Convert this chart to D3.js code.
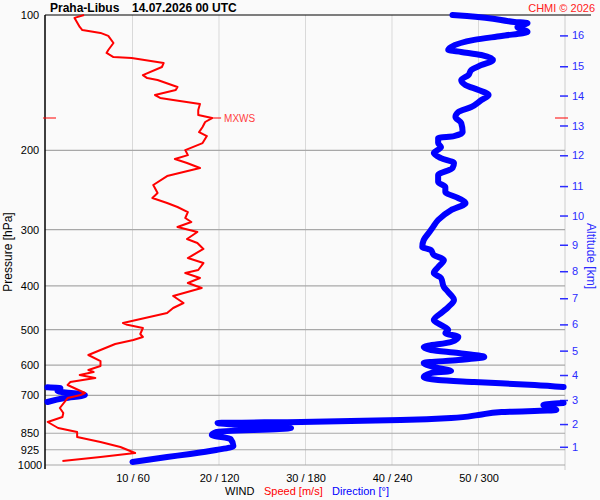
<!DOCTYPE html>
<html>
<head>
<meta charset="utf-8">
<script src="https://cdn.jsdelivr.net/npm/d3@7/dist/d3.min.js"></script>
<style>
  body { margin: 0; background: #fafafa; }
  text { font-family: "Liberation Sans", Arial, sans-serif; }
</style>
</head>
<body>
<svg id="chart"></svg>
<script>
// pressure grid / labels
var pressureTicks = [100, 200, 300, 400, 500, 600, 700, 850, 925, 1000];
// wind axis: speed m/s and direction deg share the same x
var speedTicks = [10, 20, 30, 40, 50];
var windTickLabels = ["10 / 60", "20 / 120", "30 / 180", "40 / 240", "50 / 300"];
// altitude ticks on the right, placed at their pressure
var altitudeKm = [1, 2, 3, 4, 5, 6, 7, 8, 9, 10, 11, 12, 13, 14, 15, 16];
var altitudeP = [911, 811, 717, 631, 557, 487, 426, 371, 324, 279, 240, 205, 176, 151, 130, 111];

// wind speed profile
var speedP = [100, 101.5, 106.3, 108, 109.6, 111.3, 115.4, 119.6, 121.4, 124, 124.6, 127.9, 130.5, 136, 138.1,
  139.5, 144.5, 146.8, 150.6, 152.9, 154.5, 157.7, 162.6, 166.8, 169.4, 172.9, 177.4, 182.1, 185.8, 192.6,
  199.6, 204.8, 209, 213.3, 218.8, 228, 238.7, 248.7, 255.1, 261.7, 267.1, 274.3, 282.6, 288.4, 295.9,
  303.6, 314.6, 321.1, 331.1, 346.8, 355.8, 368.7, 374.4, 384.1, 394.1, 404.3, 421.2, 436.5, 447.8, 459.5,
  483.6, 488, 496.1, 511.6, 519.5, 527.5, 538.4, 555.2, 569.6, 587.5, 602.6, 615.1, 621.4, 631, 640.8,
  654.1, 664.1, 691.9, 699, 710, 747, 766.4, 782.3, 802.5, 827.5, 844.6, 866.6, 889, 911.9, 940.5, 959.9, 979.7];
var speedMs = [4.4, 3.3, 3.9, 4.2, 6.3, 7.2, 7.8, 7.2, 7.0, 7.8, 9.9, 13.6, 13.4, 11.2, 11.7,
  12.9, 15.2, 15.0, 12.6, 13.2, 14.7, 17.8, 17.6, 17.6, 19.2, 18.4, 18.1, 17.7, 18.6, 18.1,
  16.1, 16.4, 14.9, 16.3, 17.8, 14.0, 12.4, 12.9, 12.3, 14.0, 15.2, 16.4, 16.1, 16.8, 15.2,
  17.5, 16.3, 17.5, 18.2, 16.4, 18.2, 17.6, 16.1, 17.8, 16.4, 18.0, 14.7, 15.9, 14.7, 14.0,
  8.9, 9.4, 11.2, 10.9, 11.2, 10.1, 8.0, 6.3, 4.9, 6.3, 6.3, 4.9, 5.5, 3.9, 5.7,
  2.8, 2.5, 4.5, 4.0, 2.5, 1.6, 2.0, 1.9, 0.2, 1.4, 3.6, 3.6, 6.3, 8.6, 10.3, 6.3, 1.9];

// wind direction profile
var dirP = [100, 100.5, 101.5, 103.6, 104.2, 106.3, 109.1, 111.3, 113.6, 117.8, 119.6, 120.8, 122.7, 125.9, 129.2,
  132.5, 136, 139.5, 143.1, 146.8, 150.6, 154.5, 160.1, 164.3, 168.5, 173.8, 182.1, 185.8, 187.7, 192.6,
  196.6, 202.7, 208, 213.3, 218.8, 226.8, 235.1, 241.2, 247.4, 255.1, 261.7, 271.3, 285.5, 297.4, 303.6,
  316.2, 327.7, 332.8, 341.5, 350.3, 363.1, 374.4, 384.1, 402.3, 412.7, 429.9, 445.6, 457.2, 476.2, 488.6,
  501.2, 509, 519.5, 533, 546.8, 555.2, 563.8, 575.5, 584.4, 593.4, 605.7, 618.3, 624.6, 637.5, 647.4,
  654.1, 664.1, 671, 672, 675, 684.8, 699, 710, 724.5, 728, 735.6, 754.7, 762.5, 774.3, 786.2,
  794.3, 802.5, 806.6, 827.5, 844.6, 857.7, 875.4, 907.4, 926.1, 945.2, 959.9, 984.7];
var dirDeg = [282, 292, 306, 325, 334, 327, 334, 316, 297, 281, 279, 288, 302, 310, 302,
  295, 293, 288, 291, 300, 307, 302, 295, 286, 284, 288, 289, 283, 272, 272,
  274, 269, 274, 283, 282, 272, 272, 277, 277, 286, 291, 281, 272, 268, 266,
  262, 261, 267, 269, 276, 272, 269, 274, 276, 279, 283, 279, 275, 269, 274,
  279, 277, 286, 281, 262, 267, 286, 304, 286, 262, 269, 281, 267, 262, 272,
  297, 339, 359, 1, 10, 8, 27, 13, 1, 359, 345, 354, 316, 300, 281,
  246, 177, 119, 170, 118, 115, 128, 130, 118, 100, 84, 60];

var width = 600, height = 500;
var svg = d3.select('#chart')
    .attr('width', width)
    .attr('height', height);

var y = d3.scaleLog().domain([100, 1000]).range([15, 465]);
var xSpeed = d3.scaleLinear().domain([0, 60]).range([46, 565]);
var xDir = d3.scaleLinear().domain([0, 360]).range([46, 565]);

/* grid */
svg.append('g').selectAll('line')
    .data(speedTicks)
    .enter().append('line')
    .attr('x1', d => xSpeed(d)).attr('x2', d => xSpeed(d))
    .attr('y1', y(100)).attr('y2', y(1000))
    .attr('stroke', '#d9d9d9').attr('stroke-width', 1);

svg.append('line')
    .attr('x1', xSpeed(60)).attr('x2', xSpeed(60))
    .attr('y1', y(100)).attr('y2', y(1000) + 5)
    .attr('stroke', '#cccccc');

svg.append('g').selectAll('line')
    .data(pressureTicks.slice(1))
    .enter().append('line')
    .attr('x1', 45).attr('x2', xSpeed(60))
    .attr('y1', d => y(d)).attr('y2', d => y(d))
    .attr('stroke', '#a8a8a8').attr('stroke-width', 1.2);

// top line and left axis
svg.append('line')
    .attr('x1', 45).attr('x2', 591)
    .attr('y1', y(100)).attr('y2', y(100))
    .attr('stroke', '#000');
svg.append('line')
    .attr('x1', 45).attr('x2', 45)
    .attr('y1', y(100)).attr('y2', y(1000) + 4)
    .attr('stroke', '#000').attr('stroke-width', 1.5);

/* axes */
var leftAxis = d3.axisLeft(y)
    .tickValues(pressureTicks)
    .tickFormat(d3.format('d'))
    .tickSize(0);
var gl = svg.append('g').attr('transform', 'translate(30,0)').call(leftAxis);
gl.select('.domain').remove();
gl.selectAll('text')
    .attr('x', 0).attr('text-anchor', 'middle')
    .style('font-size', '11px').style('font-family', '"Liberation Sans", Arial, sans-serif')
    .attr('fill', '#000');

var bottomAxis = d3.axisBottom(xSpeed)
    .tickValues(speedTicks)
    .tickFormat((d, i) => windTickLabels[i])
    .tickSize(0)
    .tickPadding(9);
var gb = svg.append('g').attr('transform', 'translate(0,' + y(1000) + ')').call(bottomAxis);
gb.select('.domain').remove();
gb.selectAll('text')
    .style('font-size', '11px').style('font-family', '"Liberation Sans", Arial, sans-serif')
    .attr('fill', '#000');

var rightAxis = d3.axisRight(y)
    .tickValues(altitudeP)
    .tickFormat((d, i) => altitudeKm[i])
    .tickSize(8)
    .tickPadding(4);
var gr = svg.append('g').attr('transform', 'translate(560,0)').call(rightAxis);
gr.select('.domain').remove();
gr.selectAll('line').attr('stroke', '#2b2bff').attr('stroke-width', 1.5);
gr.selectAll('text')
    .style('font-size', '11px').style('font-family', '"Liberation Sans", Arial, sans-serif')
    .attr('fill', '#2b2bff');

/* direction (break the line where it wraps round north) */
var dirPoints = dirP.map((p, i) => ({p: p, d: dirDeg[i]}));
var dirSegments = [[]];
dirPoints.forEach(function(pt, i) {
    if (i > 0 && Math.abs(pt.d - dirPoints[i - 1].d) > 180) dirSegments.push([]);
    dirSegments[dirSegments.length - 1].push(pt);
});
var dirLine = d3.line()
    .x(d => xDir(d.d))
    .y(d => y(d.p))
    .curve(d3.curveMonotoneY);
svg.append('g').selectAll('path')
    .data(dirSegments)
    .enter().append('path')
    .attr('d', dirLine)
    .attr('fill', 'none')
    .attr('stroke', '#0000ff')
    .attr('stroke-width', 6)
    .attr('stroke-linejoin', 'round')
    .attr('stroke-linecap', 'round');

/* speed */
var speedPoints = speedP.map((p, i) => ({p: p, s: speedMs[i]}));
var speedLine = d3.line()
    .x(d => xSpeed(d.s))
    .y(d => y(d.p));
svg.append('path')
    .datum(speedPoints)
    .attr('d', speedLine)
    .attr('fill', 'none')
    .attr('stroke', '#ff0000')
    .attr('stroke-width', 2)
    .attr('stroke-linejoin', 'round');

/* max wind marker */
var mx = speedPoints[d3.maxIndex(speedPoints, d => d.s)];
var my = y(mx.p);
svg.append('line').attr('x1', 43).attr('x2', 56).attr('y1', my).attr('y2', my)
    .attr('stroke', '#ff0000').attr('stroke-width', 1);
svg.append('line').attr('x1', 555).attr('x2', 568).attr('y1', my).attr('y2', my)
    .attr('stroke', '#ff0000').attr('stroke-width', 1);
svg.append('line').attr('x1', xSpeed(mx.s)).attr('x2', xSpeed(mx.s) + 9).attr('y1', my).attr('y2', my)
    .attr('stroke', '#ff0000').attr('stroke-width', 1);
svg.append('text')
    .attr('x', xSpeed(mx.s) + 12).attr('y', my + 4)
    .style('font-size', '10px').attr('fill', '#ff4040')
    .text('MXWS');

/* titles */
svg.append('text').attr('x', 50).attr('y', 12)
    .style('font-size', '12px').style('font-weight', 'bold')
    .text('Praha-Libus');
svg.append('text').attr('x', 132).attr('y', 12)
    .style('font-size', '12px').style('font-weight', 'bold')
    .text('14.07.2026 00 UTC');
svg.append('text').attr('x', 595).attr('y', 12)
    .attr('text-anchor', 'end')
    .style('font-size', '11px').attr('fill', '#ff2020')
    .text('CHMI © 2026');

svg.append('text')
    .attr('transform', 'translate(12,252) rotate(-90)')
    .attr('text-anchor', 'middle')
    .style('font-size', '12px')
    .text('Pressure [hPa]');
svg.append('text')
    .attr('transform', 'translate(587,256) rotate(90)')
    .attr('text-anchor', 'middle')
    .style('font-size', '12px').attr('fill', '#2b2bff')
    .text('Altitude [km]');

var legend = svg.append('text').attr('x', 225).attr('y', 495).style('font-size', '11px');
legend.append('tspan').attr('fill', '#000').text('WIND');
legend.append('tspan').attr('x', 264).attr('fill', '#ff0000').text('Speed [m/s]');
legend.append('tspan').attr('x', 332).attr('fill', '#0000ff').text('Direction [°]');
</script>
</body>
</html>
